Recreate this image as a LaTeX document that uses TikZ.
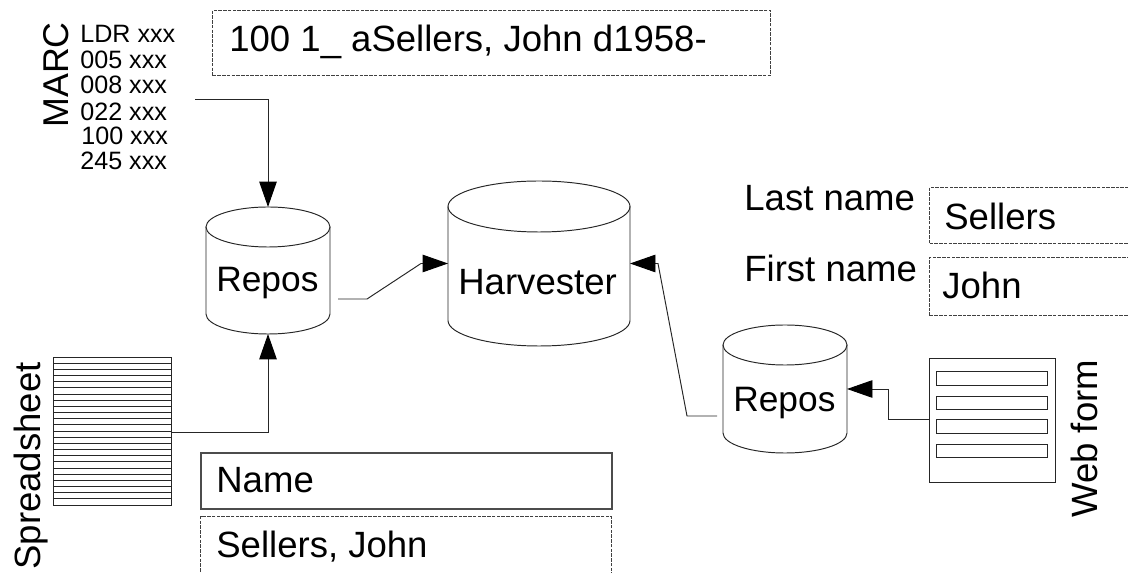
\documentclass[tikz,border=0pt]{standalone}
\usepackage{fontspec}
\setmainfont{Liberation Sans}
\usetikzlibrary{arrows.meta}

\tikzset{
  flow/.style={draw=black!85,line width=.55pt,-{Triangle[length=14.5pt,width=10pt,color=black]}},
  store/.style={rectangle,inner sep=0pt,outer sep=0pt},
  drum/.style={draw=black!85,line width=.55pt},
  dashbox/.style={draw=black!75,dash pattern=on 2pt off .7pt,line width=.6pt,rectangle,inner sep=0pt,anchor=north west},
  plainbox/.style={draw=black!70,line width=.9pt,rectangle,inner sep=0pt,anchor=north west},
  field/.style={draw=black!85,line width=.55pt,rectangle,inner sep=0pt,anchor=north west},
  txt/.style={inner sep=0pt,anchor=base west,font=\fontsize{20.8}{20.8}\selectfont},
  small/.style={inner sep=0pt,anchor=base west,font=\fontsize{14.3}{14.3}\selectfont},
}

% node name, x radius, y radius
\newcommand{\drumoutline}[3]{
\draw[drum] (#1.north) ++(0,#3) ellipse [x radius=#2,y radius=#3];
\draw[drum] (#1.north west) ++(0,#3) -- ([yshift=#3*.02cm] #1.south west) arc [start angle=180,end angle=0,x radius=#2,y radius=#3] -- ([yshift=-#3*.02cm] #1.north east);
}

\begin{document}
\begin{tikzpicture}[x=.02cm,y=-.02cm]

\useasboundingbox (0,0) rectangle (1128,573);

% marc record
\node[txt,rotate=90,font=\fontsize{20.4}{20.4}\selectfont] (marc) at (68,128) {MARC};
\node[small] (ldr) at (80,43) {LDR xxx};
\node[small] (f005) at (80,69) {005 xxx};
\node[small] (f008) at (80,94) {008 xxx};
\node[small] (f022) at (80,121) {022 xxx};
\node[small] (f100) at (81,145) {100 xxx};
\node[small] (f245) at (80,170) {245 xxx};
\coordinate (marcout) at (195,99);

\node[dashbox,minimum width=558*.02cm,minimum height=65*.02cm] (marcbox) at (212,10) {};
\node[txt] (marctxt) at (229,52) {100 1\_ aSellers, John d1958-};

% stores
\node[store,minimum width=124*.02cm,minimum height=127*.02cm] (reposa) at (268,270.5) {};
\drumoutline{reposa}{62}{20}
\node[txt,font=\fontsize{20.1}{20.1}\selectfont] (reposatxt) at (216,292) {Repos};
\node[store,minimum width=182*.02cm,minimum height=165*.02cm] (harvester) at (539,263.5) {};
\drumoutline{harvester}{91}{25.5}
\node[txt] (harvestertxt) at (458,295) {Harvester};
\node[store,minimum width=124*.02cm,minimum height=128*.02cm] (reposb) at (785,389) {};
\drumoutline{reposb}{62}{20}
\node[txt,font=\fontsize{20.1}{20.1}\selectfont] (reposbtxt) at (733,412) {Repos};

% spreadsheet
\node[field,minimum width=118*.02cm,minimum height=148*.02cm] (sheet) at (53,357) {};
\foreach \i in {1,...,23}
  \draw[black!85,line width=.5pt] (53,357+\i*6.17) -- (171,357+\i*6.17);
\node[txt,rotate=90] (sheetlabel) at (40,570) {Spreadsheet};

\node[plainbox,minimum width=411*.02cm,minimum height=56*.02cm] (namebox) at (200,452) {};
\node[txt] (nametxt) at (216,493) {Name};
\node[dashbox,minimum width=411*.02cm,minimum height=80*.02cm] (valbox) at (200,516) {};
\node[txt] (valtxt) at (216,557) {Sellers, John};

% web form
\node[field,minimum width=126*.02cm,minimum height=124*.02cm] (form) at (929,358) {};
\node[field,minimum width=111*.02cm,minimum height=14*.02cm] (forma) at (936,371) {};
\node[field,minimum width=111*.02cm,minimum height=13*.02cm] (formb) at (936,396) {};
\node[field,minimum width=111*.02cm,minimum height=14*.02cm] (formc) at (936,419) {};
\node[field,minimum width=111*.02cm,minimum height=13*.02cm] (formd) at (936,444) {};
\node[txt,rotate=90] (formlabel) at (1097,518) {Web form};

\node[txt] (lastlabel) at (744,211) {Last name};
\node[dashbox,minimum width=240*.02cm,minimum height=56*.02cm] (lastbox) at (929,187) {};
\node[txt] (lasttxt) at (944,230) {Sellers};
\node[txt] (firstlabel) at (744,282) {First name};
\node[dashbox,minimum width=240*.02cm,minimum height=58*.02cm] (firstbox) at (929,257) {};
\node[txt] (firsttxt) at (942,299) {John};

% connectors
\coordinate (aout) at (338,299);
\coordinate (bout) at (717,416);
\coordinate (sheetout) at (171,432);
\coordinate (formout) at (929,419);

\draw[flow] (marcout) -| (reposa.north);
\draw[flow] (sheetout) -| (reposa.south);
\draw[flow] (aout) -- (367,299) -- (421,263.5) -- (harvester.west);
\draw[flow] (bout) -- (687,416) -- (658,263.5) -- (harvester.east);
\draw[flow] (formout) -- (888,419) -- (888,389) -- (reposb.east);

\end{tikzpicture}
\end{document}
